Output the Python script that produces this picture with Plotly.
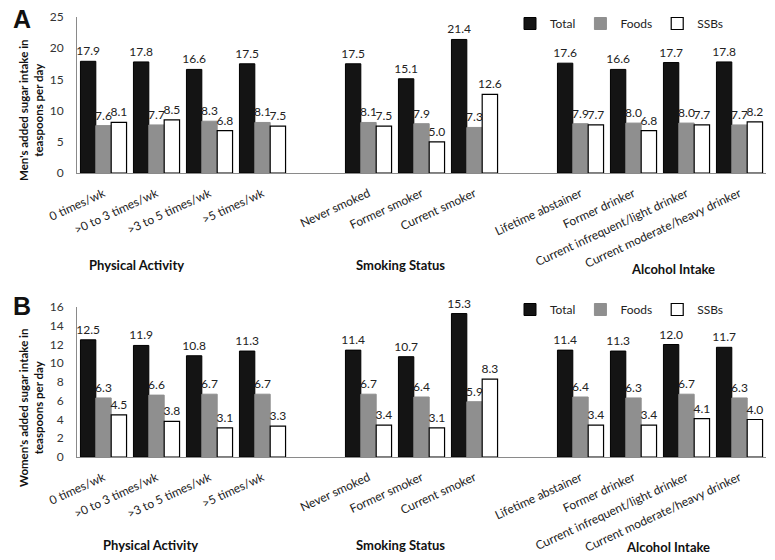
import plotly.graph_objects as go

# ---- data ----
pa_cats = ["0 times/wk", ">0 to 3 times/wk", ">3 to 5 times/wk", ">5 times/wk"]
smoke_cats = ["Never smoked", "Former smoker", "Current smoker"]
alc_cats = ["Lifetime abstainer", "Former drinker", "Current infrequent/light drinker",
            "Current moderate/heavy drinker"]
group_titles = ["Physical Activity", "Smoking Status", "Alcohol Intake"]
series_names = ["Total", "Foods", "SSBs"]

men_total = [17.9, 17.8, 16.6, 17.5, 17.5, 15.1, 21.4, 17.6, 16.6, 17.7, 17.8]
men_foods = [7.6, 7.7, 8.3, 8.1, 8.1, 7.9, 7.3, 7.9, 8.0, 8.0, 7.7]
men_ssbs = [8.1, 8.5, 6.8, 7.5, 7.5, 5.0, 12.6, 7.7, 6.8, 7.7, 8.2]

women_total = [12.5, 11.9, 10.8, 11.3, 11.4, 10.7, 15.3, 11.4, 11.3, 12.0, 11.7]
women_foods = [6.3, 6.6, 6.7, 6.7, 6.7, 6.4, 5.9, 6.4, 6.3, 6.7, 6.3]
women_ssbs = [4.5, 3.8, 3.1, 3.3, 3.4, 3.1, 8.3, 3.4, 3.4, 4.1, 4.0]

# category positions with one empty slot between groups
groups = [pa_cats, smoke_cats, alc_cats]
xpos, labels = [], []
pos = 0
for g in groups:
    for c in g:
        xpos.append(pos)
        labels.append(c)
        pos += 1
    pos += 1

FONT = "Lato, 'Open Sans', sans-serif"
styles = [
    dict(color="#141414", line=dict(color="#000000", width=1)),
    dict(color="#8f8f8f", line=dict(color="#8f8f8f", width=1)),
    dict(color="#ffffff", line=dict(color="#000000", width=1.2)),
]

fig = go.Figure()
panels = [
    ("x", "y", "legend", [men_total, men_foods, men_ssbs]),
    ("x2", "y2", "legend2", [women_total, women_foods, women_ssbs]),
]
for xa, ya, lg, vals in panels:
    for name, v, st in zip(series_names, vals, styles):
        fig.add_trace(go.Bar(
            x=xpos, y=v, name=name, marker=st, xaxis=xa, yaxis=ya, legend=lg,
            text=[f"{t:.1f}" for t in v], textposition="outside",
            textfont=dict(size=12, color="#222", family=FONT),
            constraintext="none", cliponaxis=False,
        ))

W, H = 775, 560
xdom = [77 / W, 766 / W]
ydomA = [1 - 173 / H, 1 - 17 / H]
ydomB = [1 - 457 / H, 1 - 307 / H]

xcommon = dict(domain=xdom, range=[-0.5, pos - 1.5], tickmode="array", tickvals=xpos,
               ticktext=labels, tickangle=-25, showline=True, linecolor="#8a8a8a",
               linewidth=1, ticks="", showgrid=False, zeroline=False, automargin=False,
               ticklabelstandoff=8,
               tickfont=dict(size=12, color="#222", family=FONT))
ycommon = dict(showline=True, linecolor="#8a8a8a", linewidth=1, showgrid=False,
               zeroline=False, ticks="", ticklabelstandoff=10, automargin=False,
               tickfont=dict(size=12, color="#333", family=FONT))

legcommon = dict(orientation="h", font=dict(size=12, color="#222", family=FONT),
                 itemwidth=30, xanchor="right", yanchor="top", bgcolor="rgba(0,0,0,0)",
                 tracegroupgap=0)

fig.update_layout(
    width=W, height=H, margin=dict(l=0, r=0, t=0, b=0),
    paper_bgcolor="white", plot_bgcolor="white",
    barmode="group", bargap=0.13, bargroupgap=0,
    xaxis=dict(anchor="y", **xcommon),
    yaxis=dict(anchor="x", domain=ydomA, range=[0, 25], dtick=5, **ycommon),
    xaxis2=dict(anchor="y2", **xcommon),
    yaxis2=dict(anchor="x2", domain=ydomB, range=[0, 16], dtick=2, **ycommon),
    legend=dict(x=728 / W, y=1 - 9 / H, **legcommon),
    legend2=dict(x=728 / W, y=1 - 295 / H, **legcommon),
    font=dict(family=FONT),
)

ann = []
def add_ann(text, px, py, size, family=FONT, angle=0):
    ann.append(dict(text=text, x=px / W, y=1 - py / H, xref="paper", yref="paper",
                    xanchor="center", yanchor="middle", textangle=angle,
                    showarrow=False, font=dict(size=size, family=family, color="#111")))

# panel letters
add_ann("<b>A</b>", 22, 19, 25, "Liberation Sans, Arial")
add_ann("<b>B</b>", 22, 306, 25, "Liberation Sans, Arial")
# y titles
add_ann("<b>Men's added sugar intake in<br>teaspoons per day</b>", 31, 110, 11.5, angle=-90)
add_ann("<b>Women's added sugar intake in<br>teaspoons per day</b>", 31, 408, 11.5, angle=-90)
# group titles
for gx, gy, t in zip([136, 400, 673], [265, 265, 269], group_titles):
    add_ann(f"<b>{t}</b>", gx, gy, 13)
for gx, gy, t in zip([150, 400, 668], [545, 545, 547], group_titles):
    add_ann(f"<b>{t}</b>", gx, gy, 13)
fig.update_layout(annotations=ann)

fig.write_html("out.html", config={"displayModeBar": False},
               post_script="document.body.style.margin='0px';")
